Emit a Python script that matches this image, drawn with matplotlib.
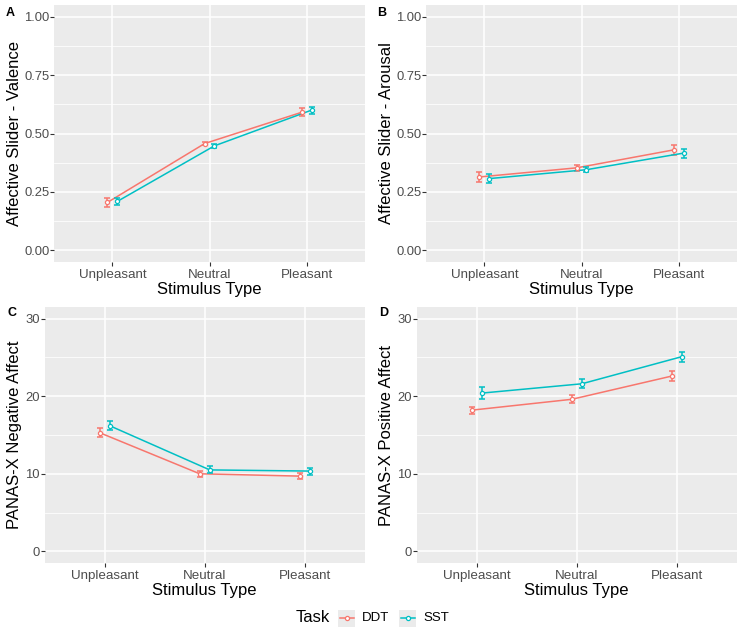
import matplotlib
matplotlib.use("Agg")
import matplotlib.pyplot as plt
from matplotlib.lines import Line2D
from matplotlib.patches import Rectangle
import numpy as np

plt.rcParams["font.family"] = ["Liberation Sans", "DejaVu Sans"]

categories = ["Unpleasant", "Neutral", "Pleasant"]
tasks = ["DDT", "SST"]
colors = {"DDT": "#F8766D", "SST": "#00BFC4"}

valence_mean = {"DDT": [0.205, 0.457, 0.591], "SST": [0.209, 0.447, 0.600]}
valence_err = {"DDT": [0.020, 0.007, 0.017], "SST": [0.017, 0.007, 0.015]}
arousal_mean = {"DDT": [0.314, 0.353, 0.430], "SST": [0.307, 0.345, 0.416]}
arousal_err = {"DDT": [0.023, 0.012, 0.020], "SST": [0.018, 0.010, 0.019]}
neg_mean = {"DDT": [15.3, 10.0, 9.7], "SST": [16.2, 10.5, 10.35]}
neg_err = {"DDT": [0.6, 0.35, 0.4], "SST": [0.55, 0.45, 0.45]}
pos_mean = {"DDT": [18.2, 19.6, 22.6], "SST": [20.4, 21.6, 25.1]}
pos_err = {"DDT": [0.45, 0.5, 0.6], "SST": [0.75, 0.6, 0.65]}

slider_ticks = [0, 0.25, 0.5, 0.75, 1.0]
slider_labels = ["0.00", "0.25", "0.50", "0.75", "1.00"]
panas_ticks = [0, 10, 20, 30]
panas_labels = ["0", "10", "20", "30"]

panels = [
    ("A", "Affective Slider - Valence", valence_mean, valence_err, slider_ticks, slider_labels, (-0.05, 1.05)),
    ("B", "Affective Slider - Arousal", arousal_mean, arousal_err, slider_ticks, slider_labels, (-0.05, 1.05)),
    ("C", "PANAS-X Negative Affect", neg_mean, neg_err, panas_ticks, panas_labels, (-1.5, 31.5)),
    ("D", "PANAS-X Positive Affect", pos_mean, pos_err, panas_ticks, panas_labels, (-1.5, 31.5)),
]

W, H = 744, 631
fig = plt.figure(figsize=(W / 100, H / 100), dpi=100)
boxes = [(54, 365, 5, 262), (426, 737, 5, 262), (44.5, 365, 307, 563), (416.5, 737, 307, 563)]
label_pos = [(10, 13), (382, 13), (12, 313), (384, 313)]
ylabel_x = [14.5, 386.5, 14.5, 386.5]

offsets = {"DDT": -0.05, "SST": 0.05}
x = np.arange(1, len(categories) + 1)

for (letter, ylabel, means, errs, yt, ytl, ylim), (l, r, t, b), (lx, ly), yx in zip(panels, boxes, label_pos, ylabel_x):
    ax = fig.add_axes([l / W, 1 - b / H, (r - l) / W, (b - t) / H])
    ax.set_facecolor("#EBEBEB")
    for s in ax.spines.values():
        s.set_visible(False)
    ax.set_xlim(0.4, 3.6)
    ax.set_ylim(*ylim)
    minors = [(yt[i] + yt[i + 1]) / 2 for i in range(len(yt) - 1)]
    for m in minors:
        ax.axhline(m, color="white", lw=0.55, zorder=0)
    for v in yt:
        ax.axhline(v, color="white", lw=1.1, zorder=0.5)
    for v in x:
        ax.axvline(v, color="white", lw=1.1, zorder=0.5)
    for task in tasks:
        xs = x + offsets[task]
        c = colors[task]
        ax.errorbar(xs, means[task], yerr=errs[task], color=c, lw=1.1, capsize=2.3,
                    capthick=1.1, fmt="none", zorder=3)
        ax.plot(xs, means[task], color=c, lw=1.1, zorder=3)
        ax.plot(xs, means[task], "o", ms=3.0, mfc="white", mec=c, mew=0.9, zorder=4, ls="none")
    ax.set_xticks(x)
    ax.set_xticklabels(categories, fontsize=9.6, color="#4D4D4D")
    ax.set_yticks(yt)
    ax.set_yticklabels(ytl, fontsize=9.4, color="#4D4D4D")
    ax.tick_params(length=2.6, width=0.8, color="#333333")
    ax.tick_params(axis="x", pad=2.2)
    ax.tick_params(axis="y", pad=0.8)
    ax.set_xlabel("Stimulus Type", fontsize=12, labelpad=1)
    ax.set_ylabel(ylabel, fontsize=12, va="center")
    ax.yaxis.set_label_coords((yx - l) / (r - l), 0.5)
    fig.text(lx / W, 1 - ly / H, letter, fontsize=9, fontweight="bold", va="center", ha="center")

# Legend (drawn manually to match ggplot's grey key boxes)
ly = 1 - 618 / H
fig.text(296 / W, ly, "Task", fontsize=12, va="center", ha="left")
key_x = {"DDT": 338, "SST": 399}
for t in tasks:
    kx = key_x[t]
    fig.add_artist(Rectangle((kx / W, (H - 627) / H), 17 / W, 17 / H, transform=fig.transFigure,
                             facecolor="#EBEBEB", edgecolor="none"))
    fig.add_artist(Line2D([(kx + 1.5) / W, (kx + 15.5) / W], [ly, ly], transform=fig.transFigure,
                          color=colors[t], lw=1.1))
    fig.add_artist(Line2D([(kx + 8.5) / W], [ly], transform=fig.transFigure, marker="o", ms=3.0,
                          mfc="white", mec=colors[t], mew=0.9, ls="none"))
    fig.text((kx + 24) / W, ly, t, fontsize=9.5, va="center", ha="left")

fig.savefig("out.png", dpi=100)
